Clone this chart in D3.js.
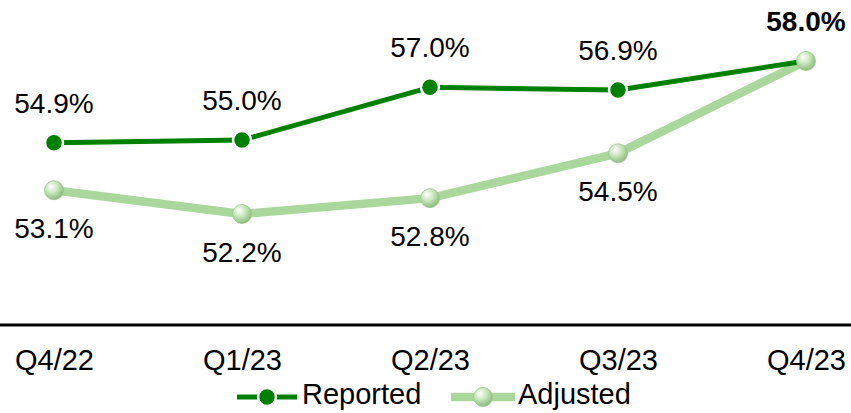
<!DOCTYPE html>
<html>
<head>
<meta charset="utf-8">
<script src="https://cdn.jsdelivr.net/npm/d3@7"></script>
<style>
  html, body { margin: 0; padding: 0; background: #fff; }
  svg { display: block; font-family: "Liberation Sans", Arial, sans-serif; }
</style>
</head>
<body>
<svg id="chart" width="851" height="413"></svg>
<script>
const categories = ["Q4/22", "Q1/23", "Q2/23", "Q3/23", "Q4/23"];
const reported = [54.9, 55.0, 57.0, 56.9, 58.0];
const adjusted = [53.1, 52.2, 52.8, 54.5, 58.0];
const seriesNames = ["Reported", "Adjusted"];

const svg = d3.select("#chart");
const W = 851;

const x = d3.scalePoint().domain(categories).range([54, 806]);
const y = d3.scaleLinear().domain([50, 60]).range([272.0, 8.2]);

const defs = svg.append("defs");
const grad = defs.append("radialGradient").attr("id", "ball")
  .attr("cx", "40%").attr("cy", "35%").attr("r", "65%").attr("fx", "35%").attr("fy", "30%");
grad.append("stop").attr("offset", "0%").attr("stop-color", "#ffffff");
grad.append("stop").attr("offset", "45%").attr("stop-color", "#cdeac2");
grad.append("stop").attr("offset", "100%").attr("stop-color", "#8cbc7e");

const REP = "#008000";
const ADJ = "#a9d79c";

// axis
const axis = d3.axisBottom(x).tickSize(0).tickPadding(26);
const gAxis = svg.append("g").attr("transform", "translate(0,325)").call(axis);
gAxis.select(".domain").remove();
gAxis.selectAll("text")
  .attr("font-size", 29).attr("fill", "#000")
  .attr("font-family", "'Liberation Sans', Arial, sans-serif")
  .attr("dy", null).attr("y", 45);
svg.append("line").attr("x1", 0).attr("x2", W).attr("y1", 325).attr("y2", 325)
  .attr("stroke", "#000").attr("stroke-width", 3);

const line = d3.line().x((d, i) => x(categories[i])).y(d => y(d));

// adjusted line
svg.append("path").datum(adjusted).attr("d", line)
  .attr("fill", "none").attr("stroke", ADJ).attr("stroke-width", 8.5)
  .attr("stroke-linejoin", "round");
// reported line
svg.append("path").datum(reported).attr("d", line)
  .attr("fill", "none").attr("stroke", REP).attr("stroke-width", 5)
  .attr("stroke-linejoin", "round");

// reported markers
svg.selectAll(".rep").data(reported).enter().append("circle")
  .attr("cx", (d, i) => x(categories[i])).attr("cy", d => y(d))
  .attr("r", 9).attr("fill", REP).attr("stroke", "#fff").attr("stroke-width", 2.5)
  .filter((d, i) => i === reported.length - 1).remove();

// adjusted markers
svg.selectAll(".adj").data(adjusted).enter().append("circle")
  .attr("cx", (d, i) => x(categories[i])).attr("cy", d => y(d))
  .attr("r", 9.5).attr("fill", "url(#ball)").attr("stroke", "#9cc58f").attr("stroke-width", 0.8);

// labels
const fmt = d => d.toFixed(1) + "%";
const last = categories.length - 1;
svg.selectAll(".repLab").data(reported).enter().append("text")
  .attr("x", (d, i) => x(categories[i])).attr("y", d => y(d) - 30)
  .attr("text-anchor", "middle").attr("font-size", 28)
  .attr("font-weight", (d, i) => i === last ? "bold" : "normal")
  .attr("fill", "#000").text(fmt);
svg.selectAll(".adjLab").data(adjusted).enter().append("text")
  .filter((d, i) => i !== last)
  .attr("x", (d, i) => x(categories[i])).attr("y", d => y(d) + 48)
  .attr("text-anchor", "middle").attr("font-size", 28)
  .attr("fill", "#000").text(fmt);

// legend
const lg = svg.append("g");
// Reported
lg.append("line").attr("x1", 237).attr("x2", 297).attr("y1", 397).attr("y2", 397)
  .attr("stroke", REP).attr("stroke-width", 5);
lg.append("circle").attr("cx", 267).attr("cy", 397).attr("r", 9)
  .attr("fill", REP).attr("stroke", "#fff").attr("stroke-width", 2.5);
lg.append("text").attr("x", 302).attr("y", 404).attr("font-size", 29).text(seriesNames[0]);
// Adjusted
lg.append("line").attr("x1", 451).attr("x2", 515).attr("y1", 397).attr("y2", 397)
  .attr("stroke", ADJ).attr("stroke-width", 8.5);
lg.append("circle").attr("cx", 483).attr("cy", 397).attr("r", 9.5)
  .attr("fill", "url(#ball)").attr("stroke", "#9cc58f").attr("stroke-width", 0.8);
lg.append("text").attr("x", 518).attr("y", 404).attr("font-size", 29).text(seriesNames[1]);
</script>
</body>
</html>
